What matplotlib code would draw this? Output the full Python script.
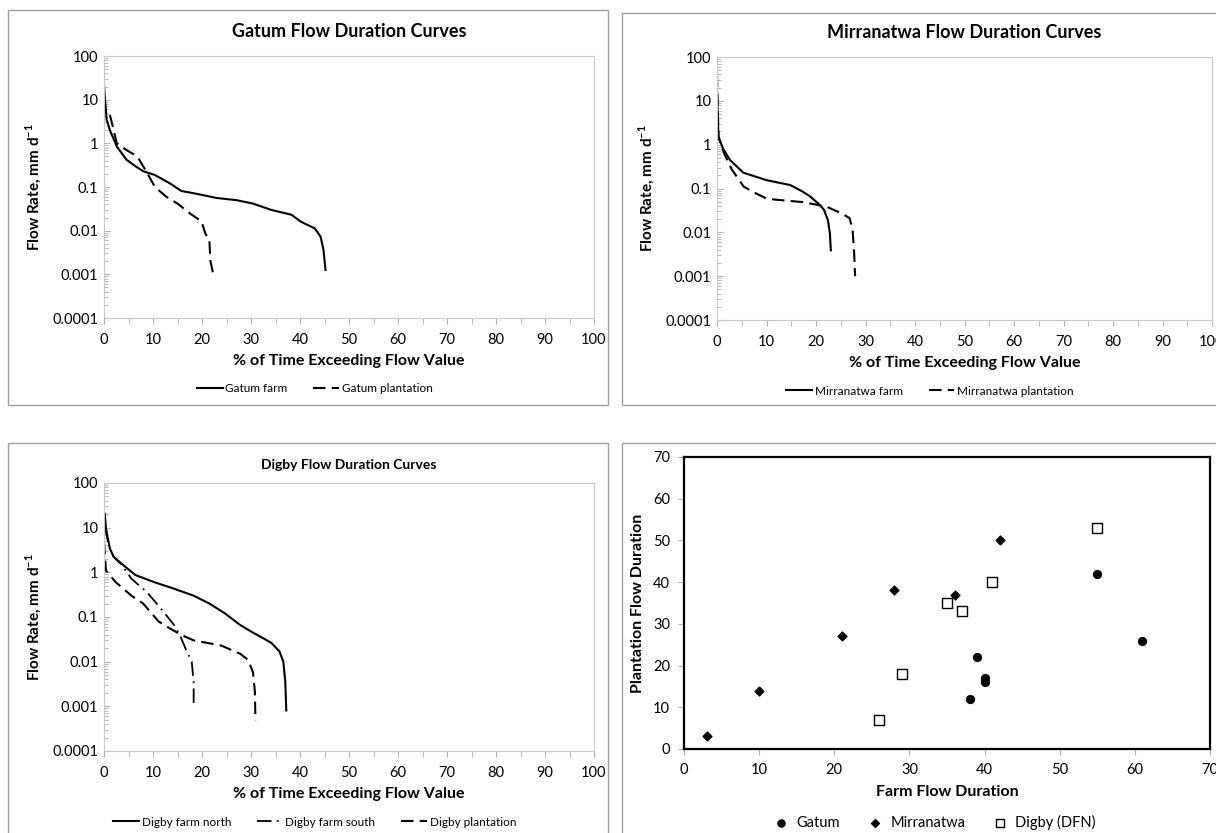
import numpy as np
import matplotlib
matplotlib.use('Agg')
import matplotlib.pyplot as plt
from matplotlib.patches import Rectangle
from matplotlib.ticker import FixedLocator, MultipleLocator, NullFormatter, LogLocator

plt.rcParams['font.family'] = ['Lato', 'DejaVu Sans']
plt.rcParams['mathtext.fontset'] = 'custom'
plt.rcParams['mathtext.rm'] = 'Lato'
plt.rcParams['mathtext.bf'] = 'Lato:bold'

# ---- data ----
gatum_farm_x = [0.0, 0.2, 0.54, 1.2, 2.6, 4.6, 6.4, 8.0, 10.4, 13.5, 15.8, 18.3, 23.0, 27.0,
                30.3, 34.2, 38.2, 40.2, 43.0, 44.2, 44.8, 45.2]
gatum_farm_y = [21.7, 10.0, 3.5, 2.0, 0.85, 0.42, 0.3, 0.23, 0.188, 0.12, 0.081, 0.072, 0.056,
                0.05, 0.042, 0.0297, 0.0233, 0.016, 0.0113, 0.0073, 0.0036, 0.00126]
gatum_plant_x = [1.2, 1.8, 2.6, 4.6, 6.8, 8.8, 10.4, 12.7, 15.1, 17.5, 19.9, 20.7, 21.5, 21.7, 22.4]
gatum_plant_y = [4.5, 2.4, 1.0, 0.7, 0.5, 0.21, 0.1, 0.06, 0.041, 0.025, 0.0163, 0.0085, 0.0063, 0.0021,
                 0.00087]

mirr_farm_x = [0.0, 0.3, 1.2, 2.6, 5.3, 10.0, 14.8, 17.3, 18.8, 20.4, 21.6, 22.4, 22.8, 23.0]
mirr_farm_y = [15.0, 1.5, 0.82, 0.45, 0.23, 0.155, 0.12, 0.085, 0.066, 0.046, 0.033, 0.019, 0.0097, 0.0039]
mirr_plant_x = [0.0, 0.3, 1.4, 3.0, 5.4, 7.8, 10.1, 17.3, 22.0, 25.2, 26.8, 27.4, 27.7, 27.9]
mirr_plant_y = [40.0, 1.5, 0.64, 0.27, 0.11, 0.078, 0.058, 0.049, 0.039, 0.027, 0.021, 0.011, 0.0035, 0.001]

digby_north_x = [0.15, 0.4, 1.2, 2.0, 4.0, 6.4, 10.3, 14.3, 18.3, 21.5, 24.7, 27.8, 30.2, 32.6, 34.2, 35.8,
                 36.6, 37.0, 37.2]
digby_north_y = [20.6, 9.5, 3.4, 2.2, 1.43, 0.87, 0.6, 0.43, 0.3, 0.2, 0.12, 0.066, 0.046, 0.033, 0.026, 0.017,
                 0.01, 0.0035, 0.00081]
digby_south_x = [0.2, 1.0, 2.0, 3.5, 5.6, 8.75, 11.1, 12.7, 14.3, 15.5, 16.7, 17.9, 18.3, 18.3]
digby_south_y = [10.0, 4.0, 2.2, 1.5, 0.72, 0.36, 0.18, 0.11, 0.066, 0.039, 0.019, 0.01, 0.0035, 0.0011]
digby_plant_x = [0.0, 0.4, 2.4, 5.6, 8.0, 11.1, 13.5, 15.9, 18.3, 23.9, 27.8, 29.4, 30.4, 30.8, 30.9]
digby_plant_y = [4.8, 1.1, 0.6, 0.3, 0.2, 0.08, 0.055, 0.039, 0.03, 0.023, 0.015, 0.011, 0.0058, 0.0021, 0.00048]

gatum_farm_dur = [39, 40, 40, 38, 55, 61]
gatum_plant_dur = [22, 17, 16, 12, 42, 26]
mirr_farm_dur = [3, 10, 21, 28, 36, 42]
mirr_plant_dur = [3, 14, 27, 38, 37, 50]
digby_farm_dur = [26, 29, 35, 37, 41, 55]
digby_plant_dur = [7, 18, 35, 33, 40, 53]

log_ticks = [0.0001, 0.001, 0.01, 0.1, 1, 10, 100]
log_labels = ['0.0001', '0.001', '0.01', '0.1', '1', '10', '100']

W, H = 1216, 833
fig = plt.figure(figsize=(W / 100, H / 100), dpi=100)


def px_axes(x0, y0, x1, y1):
    return fig.add_axes([x0 / W, 1 - y1 / H, (x1 - x0) / W, (y1 - y0) / H])


def frame(x0, y0, x1, y1):
    fig.patches.append(Rectangle((x0 / W, 1 - y1 / H), (x1 - x0) / W, (y1 - y0) / H,
                                 transform=fig.transFigure, fill=False,
                                 edgecolor='#a0a0a0', linewidth=1.0))


def fdc_axes(ax, title, title_size, pad):
    ax.set_yscale('log')
    ax.set_ylim(0.0001, 100)
    ax.set_xlim(0, 100)
    ax.yaxis.set_major_locator(FixedLocator(log_ticks))
    ax.set_yticklabels(log_labels)
    ax.yaxis.set_minor_locator(LogLocator(base=10, subs=np.arange(2, 10)))
    ax.yaxis.set_minor_formatter(NullFormatter())
    ax.xaxis.set_major_locator(MultipleLocator(10))
    ax.xaxis.set_minor_locator(MultipleLocator(5))
    for s in ax.spines.values():
        s.set_color('#c8c8c8')
    ax.tick_params(which='both', colors='#b0b0b0', labelcolor='black', labelsize=10.5)
    ax.tick_params(axis='y', which='major', length=4, direction='in', pad=4)
    ax.tick_params(axis='y', which='minor', length=3, direction='in')
    ax.tick_params(axis='x', which='both', length=4, direction='out', pad=7)
    ax.set_xlabel('% of Time Exceeding Flow Value', fontsize=11.5, fontweight='bold', labelpad=5)
    ax.set_ylabel('Flow Rate, mm d$^{\\mathbf{-1}}$', fontsize=11, fontweight='bold', labelpad=6)
    ax.set_title(title, fontsize=title_size, fontweight='bold', pad=pad)


leg_kw = dict(frameon=False, fontsize=8.5, handlelength=2.2, handletextpad=0.2, columnspacing=2.2)

# panel 1 - Gatum
frame(8, 10, 608, 405)
ax1 = px_axes(104, 56, 594, 318)
ax1.plot(gatum_farm_x, gatum_farm_y, color='black', lw=1.5, label='Gatum farm')
ax1.plot(gatum_plant_x, gatum_plant_y, color='black', lw=1.5, ls=(0, (6, 3)), label='Gatum plantation')
fdc_axes(ax1, 'Gatum Flow Duration Curves', 13, 14)
ax1.legend(loc='center', bbox_to_anchor=(0.43, -0.27), ncol=2, **leg_kw)

# panel 2 - Mirranatwa
frame(622, 13, 1230, 405)
ax2 = px_axes(717, 57, 1212, 320)
ax2.plot(mirr_farm_x, mirr_farm_y, color='black', lw=1.5, label='Mirranatwa farm')
ax2.plot(mirr_plant_x, mirr_plant_y, color='black', lw=1.5, ls=(0, (6, 3)), label='Mirranatwa plantation')
fdc_axes(ax2, 'Mirranatwa Flow Duration Curves', 13, 14)
ax2.legend(loc='center', bbox_to_anchor=(0.43, -0.27), ncol=2, **leg_kw)

# panel 3 - Digby
frame(8, 443, 608, 850)
ax3 = px_axes(104, 483, 594, 751)
ax3.plot(digby_north_x, digby_north_y, color='black', lw=1.5, label='Digby farm north')
ax3.plot(digby_south_x, digby_south_y, color='black', lw=1.3, ls=(0, (8, 3, 1, 3)), label='Digby farm south')
ax3.plot(digby_plant_x, digby_plant_y, color='black', lw=1.5, ls=(0, (6, 3)), label='Digby plantation')
fdc_axes(ax3, 'Digby Flow Duration Curves', 10, 10)
ax3.legend(loc='center', bbox_to_anchor=(0.43, -0.265), ncol=3, **leg_kw)

# panel 4 - scatter
frame(622, 443, 1230, 850)
ax4 = px_axes(684, 457, 1210, 749)
ax4.scatter(gatum_farm_dur, gatum_plant_dur, marker='o', s=32, color='black', label='Gatum')
ax4.scatter(mirr_farm_dur, mirr_plant_dur, marker='D', s=20, color='black', label='Mirranatwa')
ax4.scatter(digby_farm_dur, digby_plant_dur, marker='s', s=48, facecolor='white', edgecolor='black',
            linewidth=1.0, label='Digby (DFN)')
ax4.set_xlim(0, 70)
ax4.set_ylim(0, 70)
ax4.xaxis.set_major_locator(MultipleLocator(10))
ax4.yaxis.set_major_locator(MultipleLocator(10))
for s in ax4.spines.values():
    s.set_color('black')
    s.set_linewidth(1.6)
ax4.tick_params(labelsize=10.5, length=4, direction='out', color='#b0b0b0', pad=6)
ax4.set_xlabel('Farm Flow Duration', fontsize=11.5, fontweight='bold', labelpad=6)
ax4.set_ylabel('Plantation Flow Duration', fontsize=11.5, fontweight='bold', labelpad=6)
ax4.legend(loc='center', bbox_to_anchor=(0.47, -0.25), ncol=3, frameon=False, fontsize=10.5,
           handletextpad=0.05, columnspacing=1.4, markerscale=0.9)

fig.savefig('out.png', dpi=100)
